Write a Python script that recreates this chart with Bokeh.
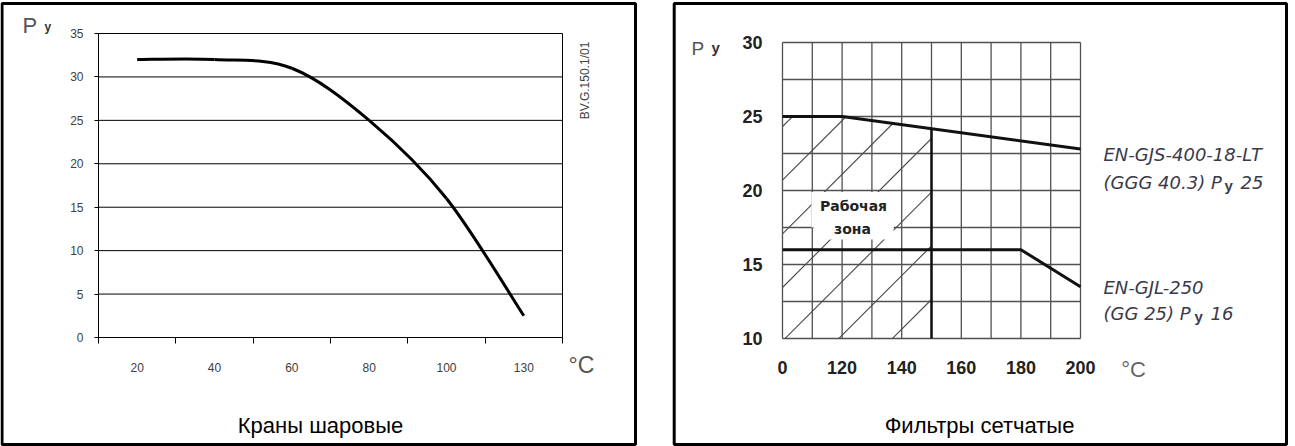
import numpy as np
from bokeh.plotting import figure
from bokeh.layouts import row
from bokeh.models import Range1d, FixedTicker, Label, BoxAnnotation
from bokeh.embed import file_html
from bokeh.resources import INLINE

# ---------------- data ----------------
# Краны шаровые: pressure (Ру) vs temperature, category axis
ball_temp_labels = ["20", "40", "60", "80", "100", "130"]
ball_pressure = [32, 32, 31, 25, 16, 2.5]
ball_y_ticks = [0, 5, 10, 15, 20, 25, 30, 35]

# Фильтры сетчатые
filter_x_ticks = [100, 120, 140, 160, 180, 200]
filter_x_labels = ["0", "120", "140", "160", "180", "200"]
filter_y_ticks = [10, 15, 20, 25, 30]
filter_x_grid = [100, 110, 120, 130, 140, 150, 160, 170, 180, 190, 200]
filter_y_grid = [10, 12.5, 15, 17.5, 20, 22.5, 25, 27.5, 30]
gjs_temp = [100, 120, 200]
gjs_pressure = [25, 25, 22.8]
gjl_temp = [100, 180, 200]
gjl_pressure = [16, 16, 13.5]
zone_temp_limit = 150

# ---------------- layout constants (page pixels) ----------------
H = 446
ARIAL = "Liberation Sans"
EPS = 1e-6


class Panel:
    """maps page pixels <-> data for a figure whose frame is its whole canvas"""

    def __init__(self, page_left, width, px0, dx0, kx, py0, dy0, ky):
        self.page_left, self.width = page_left, width
        self.px0, self.dx0, self.kx = px0, dx0, kx
        self.py0, self.dy0, self.ky = py0, dy0, ky

    def d(self, px, py):
        return (self.dx0 + (px - self.px0) / self.kx,
                self.dy0 + (self.py0 - py) / self.ky)

    def ranges(self):
        x0, y1 = self.d(self.page_left, 0)
        x1, y0 = self.d(self.page_left + self.width, H)
        return Range1d(x0, x1), Range1d(y0, y1)


def make_fig(pn):
    xr, yr = pn.ranges()
    p = figure(width=pn.width, height=H, output_backend="svg", toolbar_location=None,
               x_range=xr, y_range=yr, min_border=0, min_border_left=0,
               min_border_right=0, min_border_top=0, min_border_bottom=0)
    p.background_fill_color = "white"
    p.border_fill_color = "white"
    p.outline_line_color = None
    p.xgrid.visible = False
    p.ygrid.visible = False
    return p


def put(p, pn, px, py, text, **kw):
    x, y = pn.d(px, py)
    p.add_layout(Label(x=x, y=y, text=text, **kw))


def border(p, pn, left, right, top, bottom):
    x0, y1 = pn.d(left, top)
    x1, y0 = pn.d(right, bottom)
    p.add_layout(BoxAnnotation(left=x0, right=x1, bottom=y0, top=y1,
                               fill_color=None, fill_alpha=0,
                               line_color="black", line_alpha=1.0, line_width=3))


# ---------------- left panel ----------------
nx = len(ball_temp_labels)
pn1 = Panel(0, 650, 98, 0, 464 / nx, 337, 0, 304 / 35)
p1 = make_fig(pn1)

xpos = [i + 0.5 for i in range(nx)]
bounds_x = list(range(nx + 1))
# horizontal grid lines and right edge of plot area
p1.segment(x0=[0] * len(ball_y_ticks), x1=[nx] * len(ball_y_ticks),
           y0=ball_y_ticks, y1=ball_y_ticks, line_color="black", line_width=1)
p1.segment(x0=[nx], x1=[nx], y0=[0], y1=[max(ball_y_ticks)],
           line_color="black", line_width=1)

xa = p1.xaxis[0]
xa.fixed_location = 0
xa.bounds = (-EPS, nx + EPS)
xa.ticker = FixedTicker(ticks=xpos, minor_ticks=bounds_x)
xa.major_label_overrides = {x: lab for x, lab in zip(xpos, ball_temp_labels)}
xa.major_tick_in = 0
xa.major_tick_out = 0
xa.minor_tick_in = 0
xa.minor_tick_out = 6
xa.minor_tick_line_color = "black"
xa.axis_line_color = "black"
xa.major_label_standoff = 19
xa.major_label_text_font = ARIAL
xa.major_label_text_font_size = "12px"
xa.major_label_text_color = "#404040"

ya = p1.yaxis[0]
ya.fixed_location = 0
ya.bounds = (-EPS, max(ball_y_ticks) + EPS)
ya.ticker = FixedTicker(ticks=ball_y_ticks)
ya.major_tick_in = 0
ya.major_tick_out = 4
ya.major_tick_line_color = "black"
ya.minor_tick_line_color = None
ya.axis_line_color = "black"
ya.major_label_standoff = 11
ya.major_label_text_font = ARIAL
ya.major_label_text_font_size = "12px"
ya.major_label_text_color = "#404040"

# smooth curve (spreadsheet-style smoothing through the data points)
P = np.column_stack([xpos, ball_pressure]).astype(float)
Pe = np.vstack([P[0], P, P[-1]])
seg = []
for i in range(len(P) - 1):
    a, b = Pe[i + 1], Pe[i + 2]
    c0 = a + (Pe[i + 2] - Pe[i]) / 6.0
    c1 = b - (Pe[i + 3] - Pe[i + 1]) / 6.0
    seg.append((a, b, c0, c1))
p1.bezier(x0=[s[0][0] for s in seg], y0=[s[0][1] for s in seg],
          x1=[s[1][0] for s in seg], y1=[s[1][1] for s in seg],
          cx0=[s[2][0] for s in seg], cy0=[s[2][1] for s in seg],
          cx1=[s[3][0] for s in seg], cy1=[s[3][1] for s in seg],
          line_color="black", line_width=3)

put(p1, pn1, 22, 25, "Р", text_font=ARIAL, text_font_size="22px",
    text_color="#555555", text_align="left", text_baseline="alphabetic")
put(p1, pn1, 44, 26, "у", text_font=ARIAL, text_font_size="12px",
    text_font_style="bold", text_color="#333333", text_align="left",
    text_baseline="alphabetic")
put(p1, pn1, 581, 364, "°C", text_font=ARIAL, text_font_size="23px",
    text_color="#555555", text_align="center", text_baseline="middle")
put(p1, pn1, 584, 80, "BV.G.150.1/01", text_font=ARIAL, text_font_size="12px",
    text_color="#404040", text_align="center", text_baseline="middle",
    angle=np.pi / 2)
put(p1, pn1, 320, 425, "Краны шаровые", text_font=ARIAL, text_font_size="22px",
    text_color="black", text_align="center", text_baseline="middle")
border(p1, pn1, 1.5, 635, 3, 444)

# ---------------- right panel ----------------
pn2 = Panel(650, 642, 782, 100, 2.98, 338, 10, 14.8)
p2 = make_fig(pn2)
GRID = "#505050"
xg0, xg1 = min(filter_x_grid), max(filter_x_grid)
yg0, yg1 = min(filter_y_grid), max(filter_y_grid)
p2.segment(x0=filter_x_grid, x1=filter_x_grid, y0=[yg0] * len(filter_x_grid),
           y1=[yg1] * len(filter_x_grid), line_color=GRID, line_width=1.3)
p2.segment(x0=[xg0] * len(filter_y_grid), x1=[xg1] * len(filter_y_grid),
           y0=filter_y_grid, y1=filter_y_grid, line_color=GRID, line_width=1.3)

xb = p2.xaxis[0]
xb.fixed_location = yg0
xb.bounds = (xg0 - EPS, xg1 + EPS)
xb.ticker = FixedTicker(ticks=filter_x_ticks)
xb.major_label_overrides = {x: lab for x, lab in zip(filter_x_ticks, filter_x_labels)}
yb = p2.yaxis[0]
yb.fixed_location = xg0
yb.bounds = (yg0 - EPS, yg1 + EPS)
yb.ticker = FixedTicker(ticks=filter_y_ticks)
for ax in (xb, yb):
    ax.axis_line_color = None
    ax.major_tick_line_color = None
    ax.minor_tick_line_color = None
    ax.major_tick_in = 0
    ax.major_tick_out = 0
    ax.major_label_text_font = ARIAL
    ax.major_label_text_font_style = "bold"
    ax.major_label_text_font_size = "18px"
    ax.major_label_text_color = "#222222"
xb.major_label_standoff = 22
yb.major_label_standoff = 20

# hatching of the working zone: 45 degree lines on screen, clipped to the zone
zx = np.linspace(xg0, zone_temp_limit, 2001)
zy_top = np.interp(zx, gjs_temp, gjs_pressure)
hx0, hy0, hx1, hy1 = [], [], [], []
for c in np.linspace(908, 1230, 7):
    page_x = pn2.px0 + (zx - pn2.dx0) * pn2.kx
    ly = pn2.d(0, c - page_x)[1]
    ok = (ly >= yg0) & (ly <= zy_top)
    if ok.any():
        idx = np.where(ok)[0]
        hx0.append(zx[idx[0]]); hy0.append(ly[idx[0]])
        hx1.append(zx[idx[-1]]); hy1.append(ly[idx[-1]])
p2.segment(x0=hx0, y0=hy0, x1=hx1, y1=hy1, line_color="#4a4a4a", line_width=1.1)

# white background behind "Рабочая зона"
bx0, by1 = pn2.d(811, 191.5)
bx1, by0 = pn2.d(893, 227)
p2.quad(left=[bx0], right=[bx1], bottom=[by0], top=[by1], fill_color="white", line_color=None)
bx0, by1 = pn2.d(813.5, 226)
bx1, by0 = pn2.d(893, 239)
p2.quad(left=[bx0], right=[bx1], bottom=[by0], top=[by1], fill_color="white", line_color=None)

p2.line(gjs_temp, gjs_pressure, line_color="#111111", line_width=3)
p2.line(gjl_temp, gjl_pressure, line_color="#111111", line_width=3)
p2.segment(x0=[zone_temp_limit], y0=[yg0], x1=[zone_temp_limit],
           y1=[float(np.interp(zone_temp_limit, gjs_temp, gjs_pressure))],
           line_color="#111111", line_width=2.5)

DJ = "DejaVu Sans"
put(p2, pn2, 853, 205, "Рабочая", text_font=DJ, text_font_size="14px",
    text_font_style="bold", text_color="#222222", text_align="center",
    text_baseline="middle")
put(p2, pn2, 852, 228, "зона", text_font=DJ, text_font_size="14px",
    text_font_style="bold", text_color="#222222", text_align="center",
    text_baseline="middle")

put(p2, pn2, 691, 48, "Р", text_font=ARIAL, text_font_size="19px",
    text_color="#555555", text_align="left", text_baseline="alphabetic")
put(p2, pn2, 711, 47, "у", text_font=ARIAL, text_font_size="15px",
    text_font_style="bold", text_color="#333333", text_align="left",
    text_baseline="alphabetic")
put(p2, pn2, 1133, 369, "°C", text_font=ARIAL, text_font_size="22px",
    text_color="#666666", text_align="center", text_baseline="middle")

ANN = "#3a3a4a"
ann = dict(text_font=DJ, text_font_size="18px", text_font_style="italic",
           text_color=ANN, text_align="left", text_baseline="alphabetic")
sub = dict(text_font=ARIAL, text_font_size="15px", text_font_style="bold",
           text_color=ANN, text_align="left", text_baseline="alphabetic")
put(p2, pn2, 1103, 154, "EN-GJS-400-18-LT", **ann)
put(p2, pn2, 1103, 182, "(GGG 40.3) Р", **ann)
put(p2, pn2, 1224, 185, "у", **sub)
put(p2, pn2, 1240, 182, "25", **ann)
put(p2, pn2, 1103, 287, "EN-GJL-250", **ann)
put(p2, pn2, 1103, 313, "(GG 25) Р", **ann)
put(p2, pn2, 1194, 316, "у", **sub)
put(p2, pn2, 1210, 313, "16", **ann)

put(p2, pn2, 979, 425, "Фильтры сетчатые", text_font=ARIAL, text_font_size="22px",
    text_color="black", text_align="center", text_baseline="middle")
border(p2, pn2, 673.7, 1286, 3, 444)

layout = row(p1, p2)
open("out.html", "w").write(file_html(layout, INLINE))
